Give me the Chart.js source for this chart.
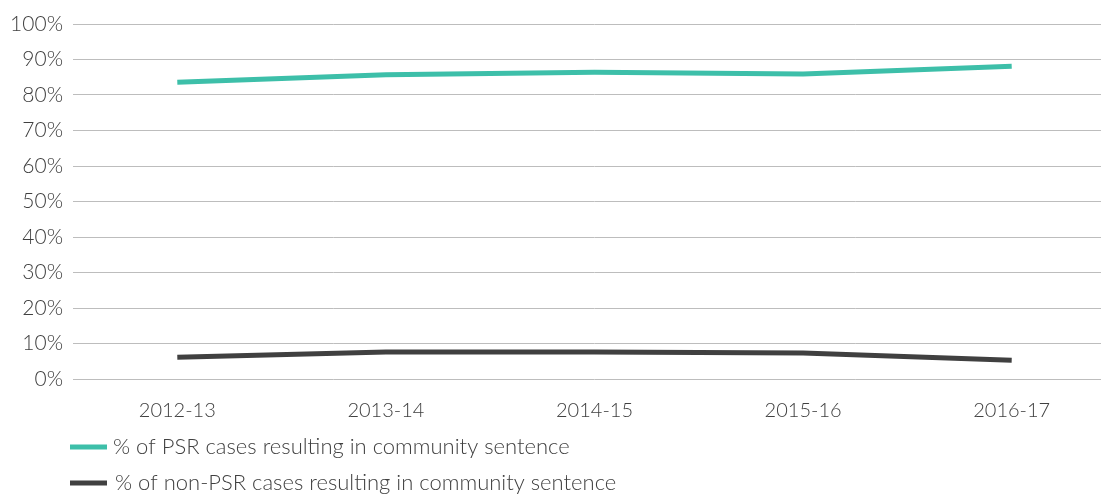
<!DOCTYPE html>
<html>
<head>
<meta charset="utf-8">
<script src="https://cdn.jsdelivr.net/npm/chart.js@4/dist/chart.umd.min.js"></script>
<style>
  html, body { margin: 0; padding: 0; overflow: hidden; background: #ffffff; width: 1101px; height: 494px; }
  #wrap { position: absolute; left: 0; top: 0; width: 1116px; height: 494px; }
</style>
</head>
<body>
<div id="wrap"><canvas id="c"></canvas></div>
<script>
const categories = ['2012-13', '2013-14', '2014-15', '2015-16', '2016-17'];
const psrValues = [83.6, 85.7, 86.4, 85.9, 88.1];
const nonPsrValues = [6.1, 7.6, 7.6, 7.3, 5.3];
const seriesLabels = ['% of PSR cases resulting in community sentence', '% of non-PSR cases resulting in community sentence'];
const seriesColors = ['#3dbfa9', '#404040'];
const yTicks = [0, 10, 20, 30, 40, 50, 60, 70, 80, 90, 100];

const FONT = 'Lato, "Open Sans", sans-serif';
const TEXT = '#404040';

const legendPlugin = {
  id: 'customLegend',
  afterDraw(chart) {
    const ctx = chart.ctx;
    const rows = [447, 483];
    ctx.save();
    chart.data.datasets.forEach((ds, i) => {
      const y = rows[i];
      ctx.strokeStyle = ds.borderColor;
      ctx.lineWidth = 5;
      ctx.lineCap = 'butt';
      ctx.beginPath();
      ctx.moveTo(70, y);
      ctx.lineTo(107, y);
      ctx.stroke();
      ctx.fillStyle = TEXT;
      ctx.font = '300 22px ' + FONT;
      ctx.textBaseline = 'middle';
      ctx.textAlign = 'left';
      ctx.fillText(ds.label, 113 + i * 2, y);
    });
    ctx.restore();
  }
};

new Chart(document.getElementById('c'), {
  type: 'line',
  data: {
    labels: categories,
    datasets: [
      { label: seriesLabels[0], data: psrValues, borderColor: seriesColors[0], backgroundColor: seriesColors[0], borderWidth: 5, pointRadius: 0, tension: 0, borderCapStyle: 'butt', fill: false },
      { label: seriesLabels[1], data: nonPsrValues, borderColor: seriesColors[1], backgroundColor: seriesColors[1], borderWidth: 5, pointRadius: 0, tension: 0, borderCapStyle: 'butt', fill: false }
    ]
  },
  options: {
    responsive: true,
    maintainAspectRatio: false,
    animation: false,
    layout: { padding: { top: 24, left: 0, right: 0, bottom: 51 } },
    plugins: { legend: { display: false }, tooltip: { enabled: false } },
    scales: {
      x: {
        offset: true,
        grid: { display: false, drawTicks: false },
        border: { display: false },
        ticks: { color: TEXT, font: { family: FONT, size: 20, weight: '300' }, padding: 20, maxRotation: 0 }
      },
      y: {
        min: 0, max: 100,
        afterFit(scale) { scale.width = 73; },
        afterBuildTicks(scale) { scale.ticks = yTicks.map(v => ({ value: v })); },
        grid: { color: '#bdbdbd', lineWidth: 1, drawTicks: false },
        border: { display: false },
        ticks: { color: TEXT, font: { family: FONT, size: 21, weight: '300' }, padding: 10, callback: v => v + '%' }
      }
    }
  },
  plugins: [legendPlugin]
});
</script>
</body>
</html>
